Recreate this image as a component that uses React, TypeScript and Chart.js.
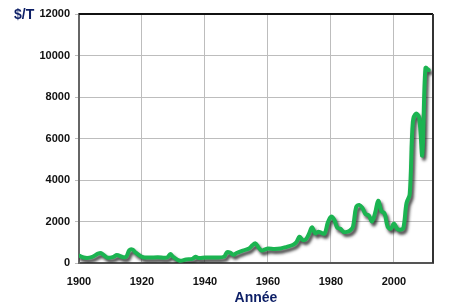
import React, { useEffect, useRef } from "react";
import { Chart, registerables } from "chart.js";

Chart.register(...registerables);

const years = [
  1900, 1902, 1904, 1906, 1907, 1909, 1911, 1912, 1914, 1915, 1916, 1917, 1918, 1920,
  1922, 1925, 1928, 1929, 1930, 1932, 1934, 1936, 1937, 1938, 1940, 1943, 1946, 1947,
  1948, 1949, 1950, 1952, 1954, 1955, 1956, 1957, 1958, 1959, 1960, 1962, 1964, 1966,
  1968, 1969, 1970, 1971, 1972, 1973, 1974, 1975, 1976, 1977, 1978, 1979, 1980, 1981,
  1982, 1983, 1984, 1985, 1986, 1987, 1988, 1989, 1990, 1991, 1992, 1993, 1994, 1995,
  1996, 1997, 1998, 1999, 2000, 2001, 2002, 2003, 2004, 2005, 2006, 2007, 2008, 2009,
  2010, 2011,
];
const prices = [
  350, 250, 280, 450, 480, 260, 300, 380, 280, 300, 620, 650, 500, 300,
  260, 280, 270, 430, 280, 110, 170, 200, 300, 240, 260, 270, 300, 520,
  500, 400, 480, 600, 700, 850, 950, 750, 600, 650, 700, 680, 700, 780,
  880, 1000, 1270, 1110, 1140, 1400, 1720, 1430, 1510, 1450, 1420, 1950, 2230, 2100,
  1700, 1650, 1500, 1500, 1560, 1750, 2700, 2800, 2650, 2350, 2300, 2000, 2400, 3000,
  2500, 2400, 1750, 1650, 1900, 1650, 1600, 1700, 2900, 3300, 6800, 7200, 7000, 5200,
  9400, 9300,
];
const xTicks = [1900, 1920, 1940, 1960, 1980, 2000];
const yUnit = "$/T";
const xTitle = "Année";

export default function App() {
  const ref = useRef<HTMLCanvasElement>(null);
  useEffect(() => {
    if (!ref.current) return;
    const shadow = {
      id: "shadow",
      beforeDatasetDraw(chart: any) {
        const ctx = chart.ctx;
        ctx.save();
        ctx.shadowColor = "rgba(30,30,30,0.8)";
        ctx.shadowOffsetX = 2;
        ctx.shadowOffsetY = 3;
        ctx.shadowBlur = 3;
      },
      afterDatasetDraw(chart: any) {
        chart.ctx.restore();
      },
    };
    const frame = {
      id: "frame",
      afterDraw(chart: any) {
        const { ctx, chartArea: a, scales } = chart;
        ctx.save();
        ctx.lineWidth = 2;
        ctx.strokeStyle = "#111";
        ctx.beginPath();
        ctx.moveTo(a.left, a.top);
        ctx.lineTo(a.right, a.top);
        ctx.stroke();
        ctx.strokeStyle = "#333";
        ctx.beginPath();
        ctx.moveTo(a.right, a.top);
        ctx.lineTo(a.right, a.bottom);
        ctx.stroke();
        ctx.fillStyle = "#0d1f66";
        ctx.font = "bold 14px 'Liberation Sans', Arial, sans-serif";
        ctx.textAlign = "left";
        ctx.textBaseline = "middle";
        ctx.fillText(yUnit, 14, scales.y.getPixelForValue(12000) + 1);
        ctx.restore();
      },
    };
    const chart = new Chart(ref.current, {
      type: "line",
      data: {
        datasets: [
          {
            data: years.map((y, i) => ({ x: y, y: prices[i] })),
            borderColor: "#1bb451",
            borderWidth: 4,
            pointRadius: 0,
            tension: 0.35,
            fill: false,
            borderJoinStyle: "round",
            borderCapStyle: "round",
          },
        ],
      },
      options: {
        animation: false,
        responsive: false,
        layout: { padding: { left: 0, right: 41, top: 14, bottom: 0 } },
        plugins: { legend: { display: false }, tooltip: { enabled: false } },
        scales: {
          x: {
            type: "linear",
            min: 1900,
            max: 2012.4,
            afterBuildTicks: (s: any) => {
              s.ticks = xTicks.map((v) => ({ value: v }));
            },
            afterFit: (s: any) => {
              s.height = 44;
            },
            grid: { color: "#bdbdbd", lineWidth: 1, tickLength: 0 },
            border: { color: "#555", width: 2 },
            ticks: {
              color: "#111",
              padding: 12,
              font: { family: "'Liberation Sans', Arial, sans-serif", size: 11, weight: "bold" },
              callback: (v: any) => String(v),
            },
            title: {
              display: true,
              text: xTitle,
              color: "#0d1f66",
              padding: { top: 2, bottom: 0 },
              font: { family: "'Liberation Sans', Arial, sans-serif", size: 14, weight: "bold" },
            },
          },
          y: {
            min: 0,
            max: 12000,
            afterFit: (s: any) => {
              s.width = 79;
            },
            grid: { color: "#bdbdbd", lineWidth: 1, tickLength: 4 },
            border: { color: "#666", width: 2 },
            ticks: {
              stepSize: 2000,
              color: "#111",
              padding: 5,
              font: { family: "'Liberation Sans', Arial, sans-serif", size: 11, weight: "bold" },
              callback: (v: any) => String(v),
            },
          },
        },
      },
      plugins: [shadow, frame],
    } as any);
    return () => chart.destroy();
  }, []);
  return (
    <div style={{ position: "fixed", left: 0, top: 0, width: 474, height: 307, background: "#fff" }}>
      <canvas ref={ref} width={474} height={307} style={{ width: 474, height: 307 }} />
    </div>
  );
}
